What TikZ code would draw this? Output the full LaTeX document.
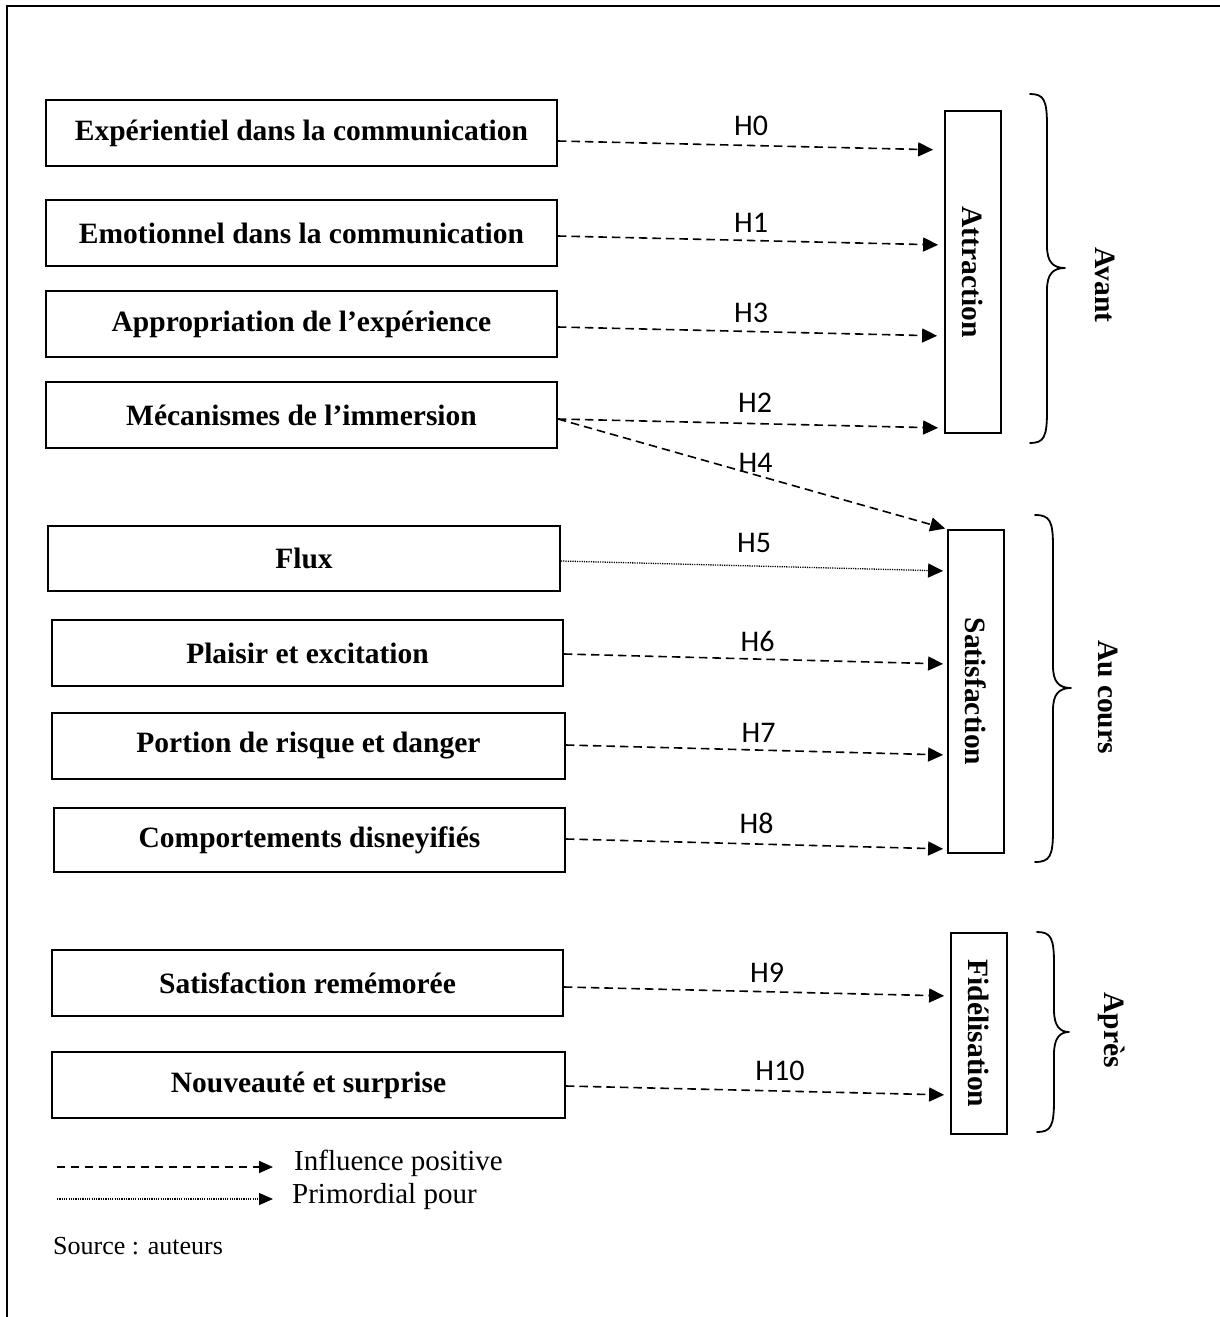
\documentclass[tikz,border=0pt]{standalone}
\usepackage{fontspec}
\setmainfont{Liberation Serif}
\newfontfamily\hfont{Carlito}
\usetikzlibrary{arrows.meta}
\tikzset{
  box/.style={draw, line width=1.8pt, minimum height=66pt, inner sep=0pt,
    font=\fontsize{29.5}{34}\selectfont\bfseries},
  vbox/.style={draw, line width=1.8pt, minimum height=56pt, inner sep=0pt, rotate=-90,
    font=\fontsize{29.5}{34}\selectfont\bfseries},
  phase/.style={rotate=-90, inner sep=0pt, font=\fontsize{29.5}{34}\selectfont\bfseries},
  inf/.style={line width=1.6pt, dash pattern=on 8.5pt off 5pt,
    -{Triangle[length=15pt,width=14pt]}},
  prim/.style={line width=1.3pt, dash pattern=on 1.2pt off 1.1pt,
    -{Triangle[length=15pt,width=14pt]}},
  hl/.style={font=\hfont\fontsize{30}{30}\selectfont, inner sep=0pt},
  bracestyle/.style={line width=1.8pt, line cap=round, line join=round},
  legtext/.style={anchor=west, inner sep=0pt, font=\fontsize{29}{34}\selectfont}
}
\newcommand\phasebrace[6]{%
  \draw[bracestyle] (#1,#4) .. controls (#2-3,#4) and (#2,#4+6) .. (#2,#4+32)
    -- (#2,#5-22) .. controls (#2,#5-6) and (#2+6,#5) .. (#3,#5)
    .. controls (#2+6,#5) and (#2,#5+6) .. (#2,#5+22)
    -- (#2,#6-32) .. controls (#2,#6-6) and (#2-3,#6) .. (#1,#6);}
\begin{document}
\begin{tikzpicture}[x=1pt, y=-1pt]
\useasboundingbox (0,0) rectangle (1220,1317);
% frame
\draw[line width=2pt] (1220,6) -- (7,6) -- (7,1317);

% left boxes
\node[box, minimum width=511pt] (e1) at (301.5,133) {Expérientiel dans la communication};
\node[box, minimum width=511pt] (e2) at (301.5,233) {Emotionnel dans la communication};
\node[box, minimum width=511pt] (e3) at (301.5,324) {Appropriation de l’expérience};
\node[box, minimum width=511pt] (e4) at (301.5,415) {Mécanismes de l’immersion};
\node[box, minimum width=512pt, minimum height=65pt] (s1) at (304,558.5) {Flux};
\node[box, minimum width=511pt] (s2) at (307.5,653) {Plaisir et excitation};
\node[box, minimum width=513pt] (s3) at (308.5,746) {Portion de risque et danger};
\node[box, minimum width=511pt, minimum height=64pt] (s4) at (309.5,840) {Comportements disneyifiés};
\node[box, minimum width=511pt] (f1) at (307.5,983) {Satisfaction remémorée};
\node[box, minimum width=513pt] (f2) at (308.5,1085) {Nouveauté et surprise};

% right boxes
\node[vbox, minimum width=322pt] (attr) at (973,272) {Attraction};
\node[vbox, minimum width=323pt] (sat) at (976,691.5) {Satisfaction};
\node[vbox, minimum width=201pt] (fid) at (979,1033.5) {Fidélisation};

% braces and phase labels
\phasebrace{1030}{1047}{1065}{94}{268}{443}
\phasebrace{1035}{1053}{1071}{515}{688}{862}
\phasebrace{1037}{1054}{1069}{932}{1032}{1132}
\node[phase] (avant) at (1105,285) {Avant};
\node[phase] (aucours) at (1108,697) {Au cours};
\node[phase] (apres) at (1112,1030) {Après};

% connectors
\draw[inf, shorten >=11pt] (e1.east |- 0,141) -- (attr.south |- 0,150) node[hl, midway, yshift=20pt] {H0};
\draw[inf, shorten >=6pt] (e2.east |- 0,236) -- (attr.south |- 0,245) node[hl, midway, yshift=18pt] {H1};
\draw[inf, shorten >=7pt] (e3.east |- 0,327) -- (attr.south |- 0,336) node[hl, midway, yshift=19pt] {H3};
\draw[inf, shorten >=6pt] (e4.east |- 0,419) -- (attr.south |- 0,428) node[hl, midway, yshift=21pt, xshift=4pt] {H2};
\draw[inf, shorten >=2pt] (e4.east |- 0,419) -- (sat.south west) node[hl, midway, yshift=11pt, xshift=3pt] {H4};
\draw[prim, shorten >=4pt] (s1.east |- 0,561) -- (sat.south |- 0,571) node[hl, midway, yshift=23pt] {H5};
\draw[inf, shorten >=4pt] (s2.east |- 0,654) -- (sat.south |- 0,664) node[hl, midway, yshift=18pt, xshift=2pt] {H6};
\draw[inf, shorten >=4pt] (s3.east |- 0,745) -- (sat.south |- 0,755) node[hl, midway, yshift=17pt, xshift=2pt] {H7};
\draw[inf, shorten >=4pt] (s4.east |- 0,839) -- (sat.south |- 0,849) node[hl, midway, yshift=21pt] {H8};
\draw[inf, shorten >=6pt] (f1.east |- 0,987) -- (fid.south |- 0,996) node[hl, midway, yshift=19pt, xshift=10pt] {H9};
\draw[inf, shorten >=6pt] (f2.east |- 0,1086) -- (fid.south |- 0,1095) node[hl, midway, yshift=20pt, xshift=22pt] {H10};

% legend
\coordinate (l1a) at (57,1167);
\coordinate (l1b) at (273,1167);
\coordinate (l2a) at (57,1199);
\coordinate (l2b) at (273,1199);
\draw[inf, dash pattern=on 8pt off 6pt, -{Triangle[length=14pt,width=12pt]}] (l1a) -- (l1b);
\draw[prim, -{Triangle[length=14pt,width=12pt]}] (l2a) -- (l2b);
\node[legtext] (lt1) at (294,1163) {Influence positive};
\node[legtext] (lt2) at (292,1197) {Primordial pour};
\node[legtext, font=\fontsize{26}{30}\selectfont] (src) at (53,1246) {Source : auteurs};
\end{tikzpicture}
\end{document}
